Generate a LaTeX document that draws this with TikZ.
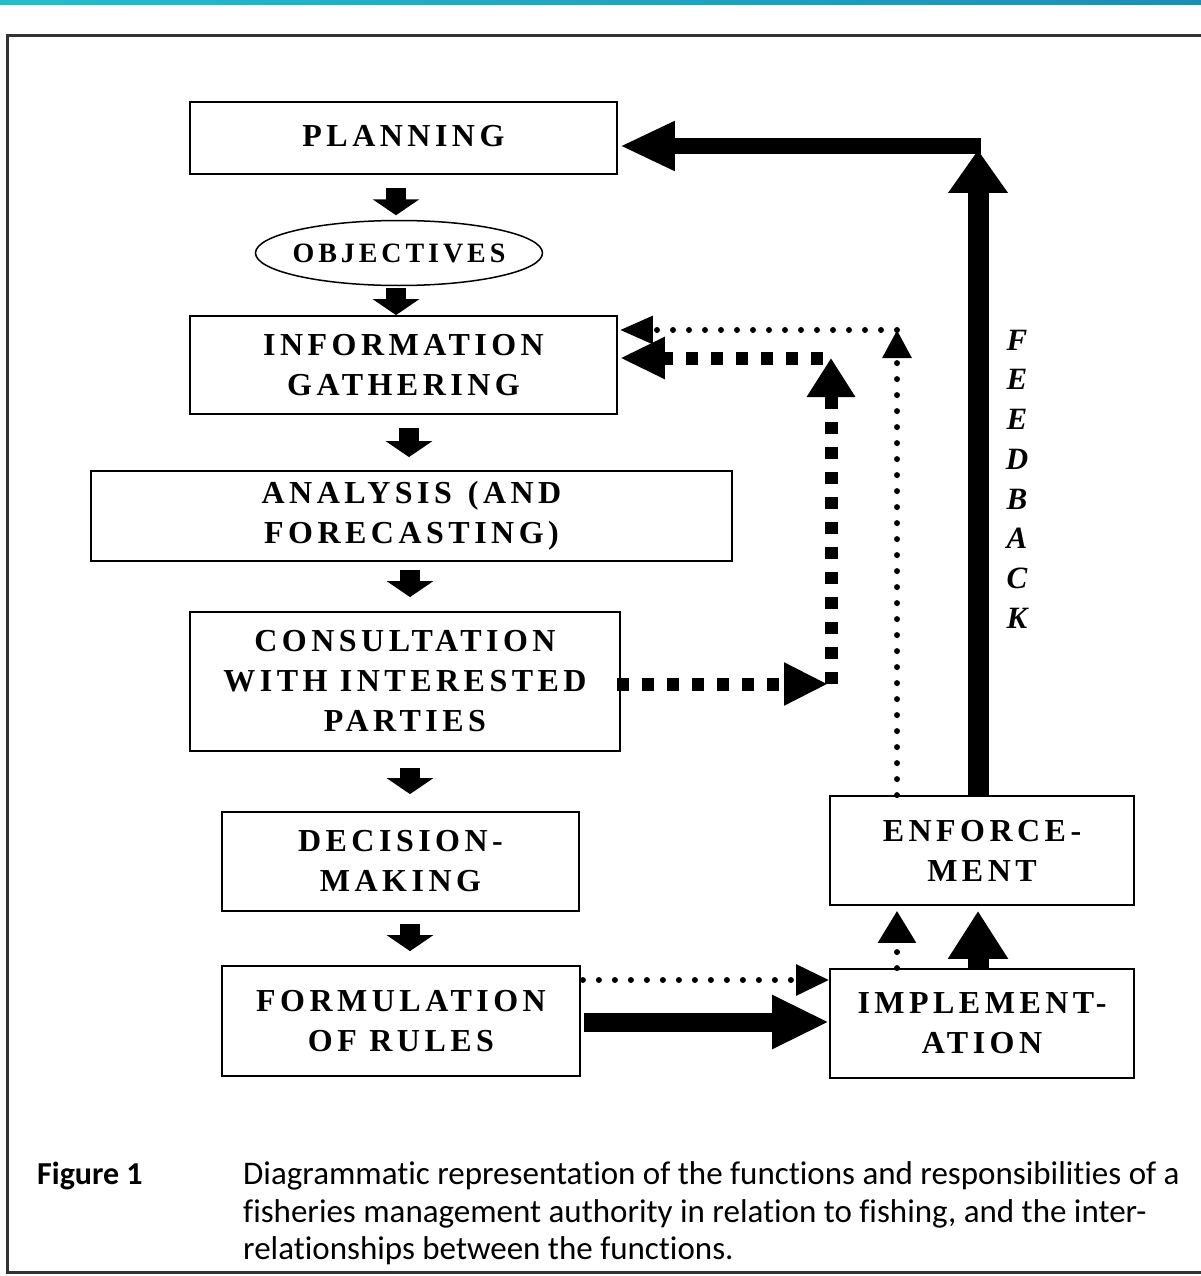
\documentclass[tikz,border=0pt]{standalone}
\usepackage{fontspec}
\setmainfont{Liberation Serif}
\newfontfamily\boxfont[LetterSpace=14]{Liberation Serif}
\newfontfamily\capfont[Ligatures=NoCommon]{Carlito}
\usetikzlibrary{arrows.meta,shapes.geometric,calc}
\begin{document}
\begin{tikzpicture}[x=1pt,y=-1pt,
  box/.style={draw, rectangle, line width=1.8pt, inner sep=0pt, align=center,
    font=\boxfont\bfseries\fontsize{32}{40}\selectfont},
  blk/.style={line width=20pt, -{Triangle[length=16pt,width=46pt]}},
  dots/.style={line width=6pt, line cap=round, dash pattern=on 0pt off 16pt},
  sq/.style={line width=13pt, dash pattern=on 12pt off 13pt},
  captext/.style={anchor=base west, inner sep=0pt, font=\capfont\fontsize{33}{38}\selectfont}]
\useasboundingbox (0,0) rectangle (1201,1276);
% top bar and frame
\shade[left color={rgb,255:red,34;green,190;blue,204}, right color={rgb,255:red,26;green,143;blue,181}] (0,0) rectangle (1201,5);
\draw[line width=3pt, black!80] (1201,36) -- (7,36) -- (7,1272) -- (1201,1272);
% nodes
\node[box, minimum width=427pt, minimum height=72pt] (planning) at (403.5,138) {\raisebox{5pt}{PLANNING}};
\node[draw, ellipse, line width=1.5pt, minimum width=287pt, minimum height=65pt, inner sep=0pt,
  font=\boxfont\bfseries\fontsize{28}{34}\selectfont] (objectives) at (399,253) {\makebox[170pt]{OBJECTIVES}};
\node[box, minimum width=427pt, minimum height=98pt] (info) at (403.5,365) {INFORMATION\\GATHERING};
\node[box, minimum width=641pt, minimum height=90pt] (analysis) at (411.5,516) {ANALYSIS\hspace{0.5em}(AND\\FORECASTING)};
\node[box, minimum width=430pt, minimum height=139pt] (consult) at (405,681.5) {CONSULTATION\\WITH INTERESTED\\PARTIES};
\node[box, minimum width=357pt, minimum height=99pt] (decision) at (400.5,861.5) {DECISION-\\MAKING};
\node[box, minimum width=358pt, minimum height=110pt] (formul) at (401,1021) {FORMULATION\\OF RULES};
\node[box, minimum width=304pt, minimum height=109pt] (impl) at (982,1023.5) {IMPLEMENT-\\ATION};
\node[box, minimum width=304pt, minimum height=109pt] (enf) at (982,850.5) {ENFORCE-\\MENT};
\node[align=center, inner sep=0pt, font=\bfseries\itshape\fontsize{31}{39.7}\selectfont] (fb) at (1017,479) {F\\E\\E\\D\\B\\A\\C\\K};
% down arrows
\draw[blk] ($(planning.south)+(-7.5,13)$) -- ($(objectives.north)+(-3,-4.5)$);
\draw[blk] ($(objectives.south)+(-3,1.5)$) -- ($(info.north)+(-7.5,0)$);
\draw[blk] ($(info.south)+(5.5,13)$) -- ($(analysis.north)+(-2.5,-13)$);
\draw[blk] ($(analysis.south)+(-1.5,8)$) -- ($(consult.north)+(5,-14)$);
\draw[blk] ($(consult.south)+(5,16)$) -- ($(decision.north)+(9.5,-17)$);
\draw[blk] ($(decision.south)+(9.5,12)$) -- ($(formul.north)+(9,-14)$);
% feedback
\coordinate (fbtop) at (978,150);
\coordinate (fbcorner) at (981,146);
\draw[line width=21pt, -{Triangle[length=43pt,width=57pt]}] ($(enf.north)+(-4,0)$) -- (fbtop);
\draw[line width=16pt, -{Triangle[length=55pt,width=46pt]}] (fbcorner) -- ($(planning.east)+(2,8)$);
% formulation -> implementation
\draw[line width=19pt, -{Triangle[length=57pt,width=50pt]}] ($(formul.east)+(3,1)$) -- ($(impl.west)+(0,-1.5)$);
\draw[dots, -{Triangle[length=33pt,width=30pt]}] ($(formul.east)+(2,-41)$) -- ($(impl.west)+(0,-43.5)$);
% implementation -> enforcement
\draw[line width=21pt, -{Triangle[length=48pt,width=57pt]}] ($(impl.north)+(-4,0)$) -- ($(enf.south)+(-4,5)$);
\draw[dots, -{Triangle[length=32pt,width=37pt]}] ($(impl.north)+(-85,0)$) -- ($(enf.south)+(-85,5)$);
% enforcement -> information (dotted)
\coordinate (dotcorner) at (897,330);
\draw[dots, -{Triangle[length=28pt,width=28pt]}] ($(enf.north)+(-85,0)$) -- (dotcorner);
\draw[dots, -{Triangle[length=33pt,width=27pt]}] (dotcorner) -- ($(info.east)+(2,-35)$);
% consultation -> information (squares)
\coordinate (sqa) at (831,684);
\coordinate (sqb) at (831,358);
\coordinate (sqc) at (823,358);
\draw[sq, -{Triangle[length=44pt,width=40pt]}] ($(consult.east)+(-4,2.5)$) -- ($(sqa)+(-3,0)$);
\draw[sq, -{Triangle[length=39pt,width=46pt]}] (sqa) -- (sqb);
\draw[sq, -{Triangle[length=45pt,width=39pt]}] (sqc) -- ($(info.east)+(2,-7)$);
% caption
\node[anchor=base west, inner sep=0pt, font=\capfont\bfseries\fontsize{32}{38}\selectfont] (figlabel) at (37,1184) {Figure 1};
\node[captext] (cap1) at (243,1184) {Diagrammatic representation of the functions and responsibilities of a};
\node[captext] (cap2) at (243,1222) {fisheries management authority in relation to fishing, and the inter-};
\node[captext] (cap3) at (243,1259) {relationships between the functions.};
\end{tikzpicture}
\end{document}
